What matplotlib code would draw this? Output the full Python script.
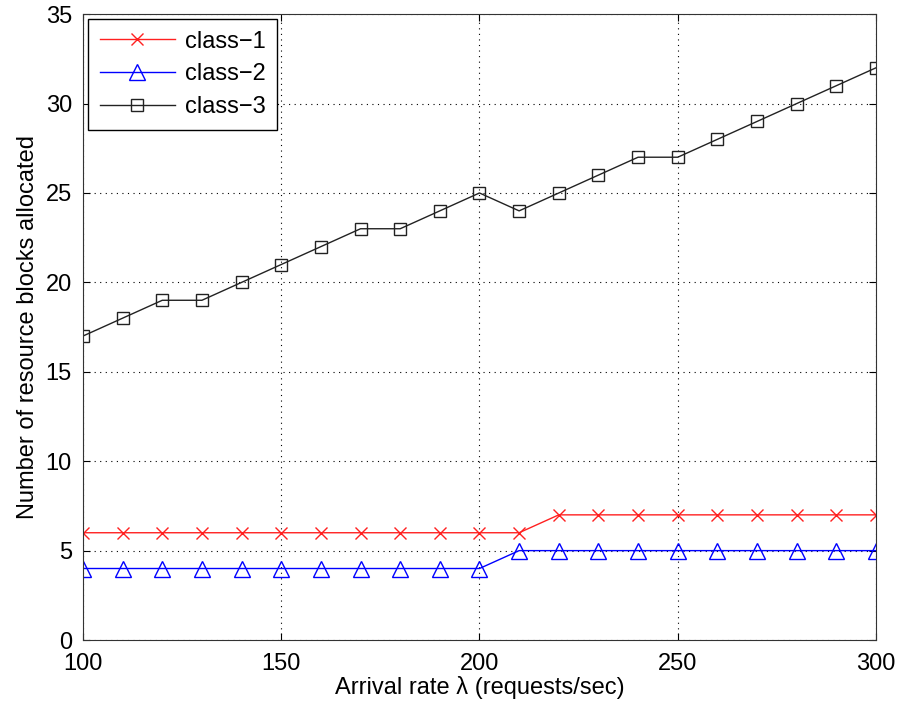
import matplotlib
matplotlib.use("Agg")
import matplotlib.pyplot as plt

x = [100, 110, 120, 130, 140, 150, 160, 170, 180, 190, 200,
     210, 220, 230, 240, 250, 260, 270, 280, 290, 300]
class1 = [6, 6, 6, 6, 6, 6, 6, 6, 6, 6, 6, 6, 7, 7, 7, 7, 7, 7, 7, 7, 7]
class2 = [4, 4, 4, 4, 4, 4, 4, 4, 4, 4, 4, 5, 5, 5, 5, 5, 5, 5, 5, 5, 5]
class3 = [17, 18, 19, 19, 20, 21, 22, 23, 23, 24, 25, 24, 25, 26, 27, 27, 28, 29, 30, 31, 32]
xticks = [100, 150, 200, 250, 300]
yticks = [0, 5, 10, 15, 20, 25, 30, 35]

plt.rcParams['font.family'] = ['Liberation Sans', 'DejaVu Sans']

fig = plt.figure(figsize=(8.99, 7.08), dpi=100)
ax = fig.add_axes([0.0923, 0.096, 0.8821, 0.884])

ax.plot(x, class1, color='#ff2020', marker='x', markersize=8, linewidth=1.0,
        markeredgewidth=1.0, label='class\u22121')
ax.plot(x, class2, color='#0000ff', marker='^', markersize=12, linewidth=1.0,
        markerfacecolor='none', markeredgewidth=1.0, label='class\u22122')
ax.plot(x, class3, color='#222222', marker='s', markersize=9, linewidth=1.0,
        markerfacecolor='none', markeredgewidth=1.0, label='class\u22123')

ax.set_xlim(100, 300)
ax.set_ylim(0, 35)
ax.set_xticks(xticks)
ax.set_yticks(yticks)
ax.tick_params(direction='in', labelsize=17, length=5, top=True, right=True)
ax.tick_params(axis='x', pad=9)
ax.tick_params(axis='y', pad=8)
ax.grid(True, linestyle=(0, (1, 4)), color='black', linewidth=0.8)
for s in ax.spines.values():
    s.set_color('#333333')

ax.set_xlabel('Arrival rate \u03bb (requests/sec)', fontsize=17, labelpad=1)
ax.set_ylabel('Number of resource blocks allocated', fontsize=17, labelpad=5)

leg = ax.legend(loc='upper left', fontsize=17, frameon=True, fancybox=False,
                edgecolor='black', framealpha=1, borderaxespad=0.2,
                handlelength=3.2, labelspacing=0.45, borderpad=0.5,
                handletextpad=0.4)
leg.get_frame().set_linewidth(1.0)

fig.savefig('out.png', dpi=100)
